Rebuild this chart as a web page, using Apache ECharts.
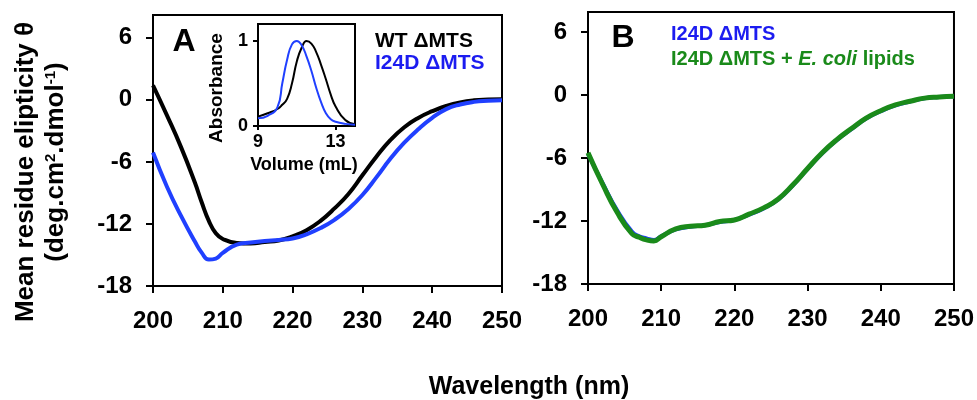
<!DOCTYPE html>
<html>
<head>
<meta charset="utf-8">
<script src="https://cdn.jsdelivr.net/npm/echarts@6/dist/echarts.min.js"></script>
<style>html,body{margin:0;padding:0;background:#fff}#c{width:977px;height:400px}</style>
</head>
<body>
<div id="c"></div>
<script>
// ---- data ----
var wavelength = [200,202,204,206,207,208,209,210,212,214,216,218,220,222,224,226,228,230,232,234,236,238,240,242,244,246,248,250];
var wtA   = [1.4,-1.5,-4.55,-8.0,-9.95,-11.7,-12.9,-13.45,-13.85,-13.9,-13.75,-13.6,-13.2,-12.6,-11.7,-10.5,-9.1,-7.3,-5.5,-3.9,-2.65,-1.75,-1.1,-0.6,-0.25,-0.05,0.02,0.05];
var i24dA = [-5.1,-8.4,-11.2,-13.7,-14.8,-15.45,-15.35,-14.8,-14.0,-13.8,-13.65,-13.55,-13.4,-13.0,-12.4,-11.6,-10.55,-9.2,-7.5,-5.7,-4.15,-2.85,-1.75,-0.9,-0.45,-0.2,-0.1,-0.05];
var i24dB = [-5.6,-8.4,-11.0,-13.0,-13.45,-13.65,-13.8,-13.45,-12.8,-12.55,-12.4,-12.1,-11.9,-11.4,-10.8,-9.95,-8.6,-7.05,-5.55,-4.3,-3.25,-2.25,-1.55,-1.0,-0.62,-0.32,-0.2,-0.13];
var lipidsB = [-5.5,-8.5,-11.2,-13.2,-13.55,-13.8,-13.9,-13.5,-12.75,-12.5,-12.4,-12.05,-11.9,-11.35,-10.75,-9.9,-8.55,-7.0,-5.5,-4.25,-3.2,-2.2,-1.5,-0.95,-0.6,-0.3,-0.2,-0.13];
var volume = [9,9.5,10,10.25,10.5,10.75,11,11.25,11.5,11.75,12,12.25,12.5,12.75,13,13.5,14];
var absWT   = [0.11,0.15,0.2,0.25,0.32,0.5,0.76,0.92,1.0,0.97,0.87,0.72,0.55,0.37,0.23,0.07,0.02];
var absI24D = [0.09,0.12,0.22,0.5,0.78,0.96,1.0,0.95,0.82,0.65,0.45,0.28,0.15,0.08,0.05,0.025,0.015];
var xTicks = [200,210,220,230,240,250];
var yTicks = [-18,-12,-6,0,6];
var insetXTicks = [9,13];
var insetYTicks = [0,1];

var FF = "'Liberation Sans', Arial, Helvetica, sans-serif";
var BLUE = '#2040ff', BLUE_T = '#1c1cf0', GREEN = '#1a8a1a';

function pairs(xs, ys){ return xs.map(function(x,i){ return [x, ys[i]]; }); }

function mainX(idx){
  return {gridIndex: idx, type:'value', min:200, max:250, interval:10,
    axisLine:{onZero:false, lineStyle:{color:'#000', width:2}},
    axisTick:{length:7, lineStyle:{color:'#000', width:2}, customValues: xTicks},
    axisLabel:{color:'#000', fontFamily:FF, fontWeight:'bold', fontSize:24, margin:23,
      customValues: xTicks},
    splitLine:{show:false}};
}
function mainY(idx, max){
  return {gridIndex: idx, type:'value', min:-18, max:max,
    axisLine:{show:true, onZero:false, lineStyle:{color:'#000', width:2}},
    axisTick:{show:true, length:7, lineStyle:{color:'#000', width:2}, customValues: yTicks},
    axisLabel:{color:'#000', fontFamily:FF, fontWeight:'bold', fontSize:24, margin:21,
      customValues: yTicks},
    splitLine:{show:false}};
}

var chart = echarts.init(document.getElementById('c'), null, {renderer:'canvas'});
var option = {
  animation:false,
  backgroundColor:'#fff',
  grid:[
    {left:153, top:15, width:349, height:271, show:true, borderColor:'#000', borderWidth:2},
    {left:588, top:12, width:366, height:272, show:true, borderColor:'#000', borderWidth:2},
    {left:258, top:24, width:97, height:102, show:true, borderColor:'#000', borderWidth:2, backgroundColor:'#fff'}
  ],
  xAxis:[
    mainX(0), mainX(1),
    {gridIndex:2, type:'value', min:9, max:14,
      axisLine:{onZero:false, lineStyle:{color:'#000', width:2}},
      axisTick:{length:4, lineStyle:{color:'#000', width:2}, customValues: insetXTicks},
      axisLabel:{color:'#000', fontFamily:FF, fontWeight:'bold', fontSize:18, margin:7, customValues: insetXTicks},
      splitLine:{show:false}}
  ],
  yAxis:[
    mainY(0, 8.2), mainY(1, 7.9),
    {gridIndex:2, type:'value', min:0, max:1.2,
      axisLine:{show:true, onZero:false, lineStyle:{color:'#000', width:2}},
      axisTick:{show:true, length:5, lineStyle:{color:'#000', width:2}, customValues: insetYTicks},
      axisLabel:{color:'#000', fontFamily:FF, fontWeight:'bold', fontSize:18, margin:10, customValues: insetYTicks},
      splitLine:{show:false}}
  ],
  series:[
    {type:'line', xAxisIndex:0, yAxisIndex:0, data:pairs(wavelength, wtA), smooth:0.5, showSymbol:false,
      lineStyle:{color:'#000', width:4}, z:3},
    {type:'line', xAxisIndex:0, yAxisIndex:0, data:pairs(wavelength, i24dA), smooth:0.5, showSymbol:false,
      lineStyle:{color:BLUE, width:4}, z:4},
    {type:'line', xAxisIndex:1, yAxisIndex:1, data:pairs(wavelength, i24dB), smooth:0.5, showSymbol:false,
      lineStyle:{color:BLUE, width:4}, z:3},
    {type:'line', xAxisIndex:1, yAxisIndex:1, data:pairs(wavelength, lipidsB), smooth:0.5, showSymbol:false,
      lineStyle:{color:GREEN, width:5}, z:4},
    {type:'line', xAxisIndex:2, yAxisIndex:2, data:pairs(volume, absWT), smooth:0.5, showSymbol:false,
      lineStyle:{color:'#000', width:2}, z:5},
    {type:'line', xAxisIndex:2, yAxisIndex:2, data:pairs(volume, absI24D), smooth:0.5, showSymbol:false,
      lineStyle:{color:BLUE, width:2}, z:5}
  ],
  graphic:[
    {type:'text', x:26, y:172, rotation:Math.PI/2, style:{text:'Mean residue elipticity θ', font:'bold 26px '+FF, fill:'#000', align:'center', verticalAlign:'middle', textAlign:'center', textVerticalAlign:'middle'}},
    {type:'text', x:56, y:162, rotation:Math.PI/2, style:{text:'(deg.cm{sup|2}.dmol{sup|-1})', font:'bold 26px '+FF, fill:'#000', align:'center', verticalAlign:'middle', textAlign:'center', textVerticalAlign:'middle',
      rich:{sup:{font:'bold 15px '+FF, fill:'#000', verticalAlign:'top'}}}},
    {type:'text', x:529, y:387, style:{text:'Wavelength (nm)', font:'bold 25px '+FF, fill:'#000', align:'center', verticalAlign:'middle', textAlign:'center', textVerticalAlign:'middle'}},
    {type:'text', x:184, y:42, style:{text:'A', font:'bold 32px '+FF, fill:'#000', align:'center', verticalAlign:'middle', textAlign:'center', textVerticalAlign:'middle'}},
    {type:'text', x:623, y:38, style:{text:'B', font:'bold 32px '+FF, fill:'#000', align:'center', verticalAlign:'middle', textAlign:'center', textVerticalAlign:'middle'}},
    {type:'text', x:375, y:41, style:{text:'WT ΔMTS', font:'bold 21px '+FF, fill:'#000', align:'left', verticalAlign:'middle', textAlign:'left', textVerticalAlign:'middle'}},
    {type:'text', x:375, y:63, style:{text:'I24D ΔMTS', font:'bold 21px '+FF, fill:BLUE_T, align:'left', verticalAlign:'middle', textAlign:'left', textVerticalAlign:'middle'}},
    {type:'text', x:671, y:34, style:{text:'I24D ΔMTS', font:'bold 20px '+FF, fill:BLUE_T, align:'left', verticalAlign:'middle', textAlign:'left', textVerticalAlign:'middle'}},
    {type:'text', x:671, y:59, style:{text:'I24D ΔMTS + {it|E. coli} lipids', font:'bold 20px '+FF, fill:GREEN, align:'left', verticalAlign:'middle', textAlign:'left', textVerticalAlign:'middle',
      rich:{it:{font:'italic bold 20px '+FF, fill:GREEN}}}},
    {type:'text', x:217, y:88, rotation:Math.PI/2, style:{text:'Absorbance', font:'bold 19px '+FF, fill:'#000', align:'center', verticalAlign:'middle', textAlign:'center', textVerticalAlign:'middle'}},
    {type:'text', x:304, y:165, style:{text:'Volume (mL)', font:'bold 18px '+FF, fill:'#000', align:'center', verticalAlign:'middle', textAlign:'center', textVerticalAlign:'middle'}}
  ]
};
chart.setOption(option);
</script>
</body>
</html>
